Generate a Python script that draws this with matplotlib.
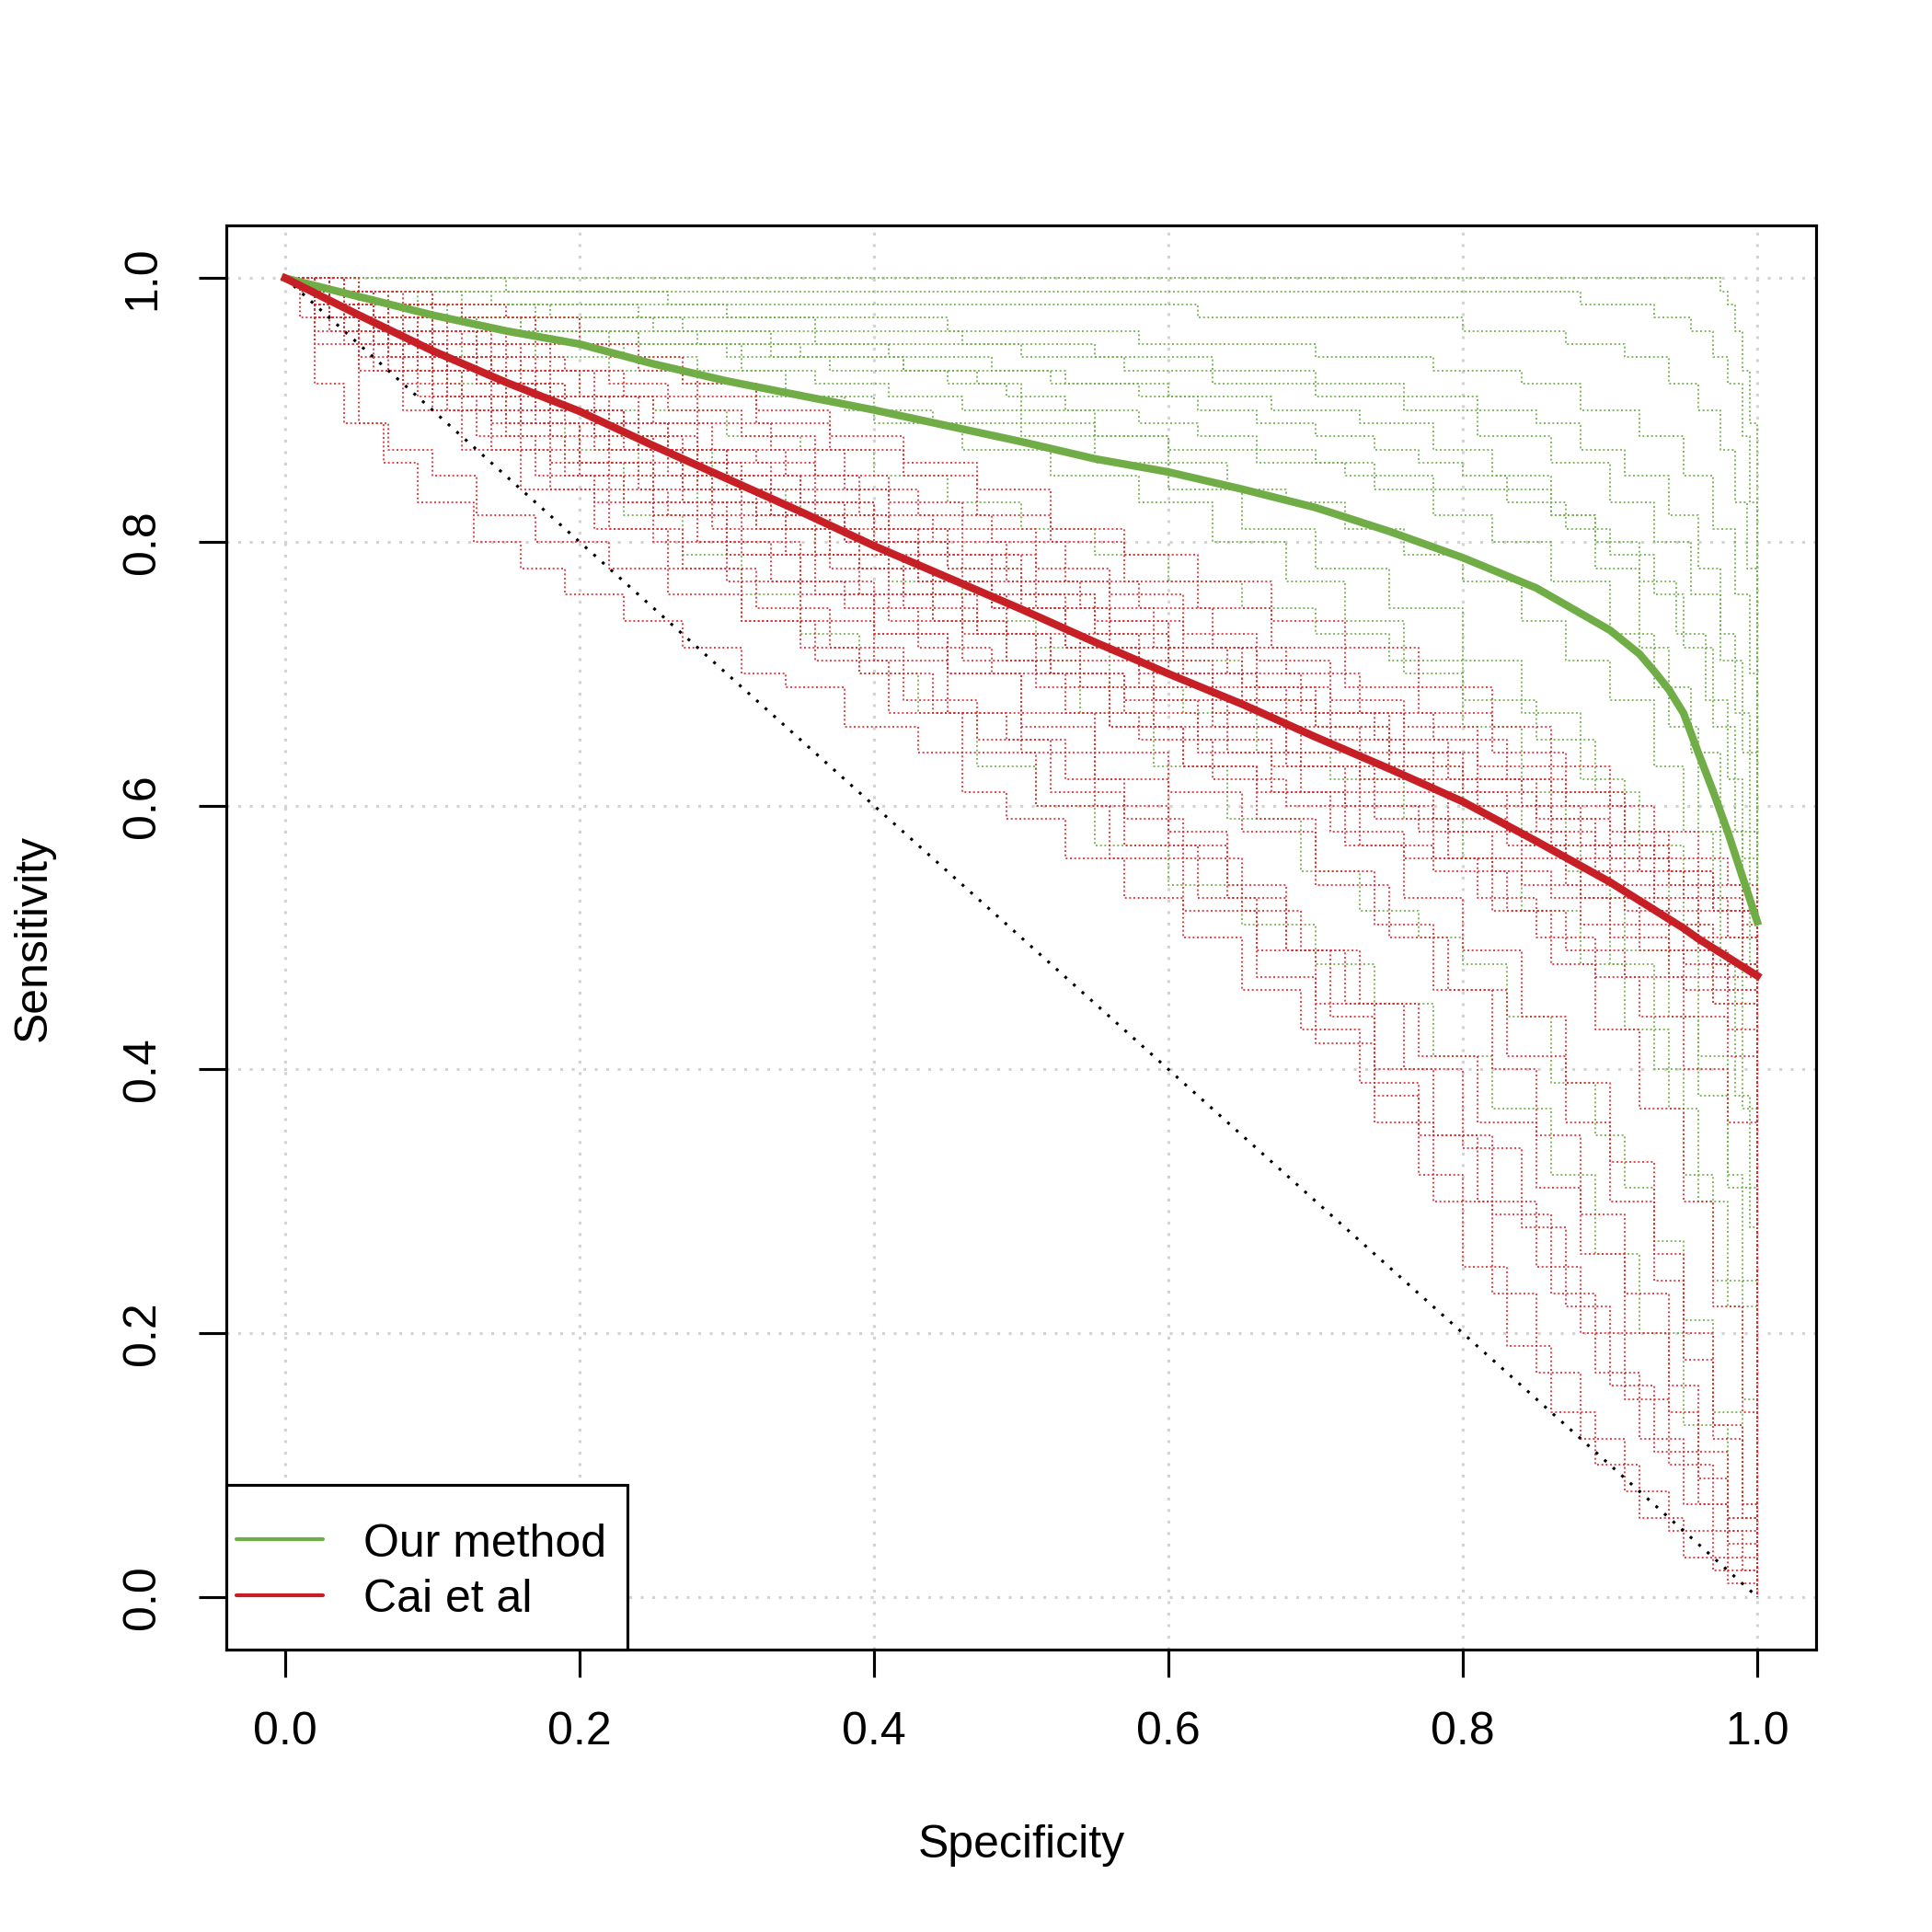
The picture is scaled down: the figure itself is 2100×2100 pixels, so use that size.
import matplotlib
matplotlib.use("Agg")
import matplotlib.pyplot as plt
from matplotlib.lines import Line2D
from matplotlib.patches import Rectangle

plt.rcParams['font.family'] = ['Liberation Sans', 'DejaVu Sans']

# ---------------- data ----------------
# mean ROC curves (specificity grid -> sensitivity)
green_mean_spec = [0, .05, .1, .15, .2, .25, .3, .35, .4, .45, .5, .55, .6, .65,
                   .7, .75, .8, .85, .9, .91, .92, .93, .94, .95, .96, .97, .98, .99, 1.0]
green_mean = [1, .986, .972, .960, .950, .935, .922, .911, .900, .888, .876, .863,
              .853, .840, .826, .808, .788, .765, .733, .724, .715, .702, .688, .670,
              .640, .611, .580, .546, .512]
red_mean_spec = [0, .05, .1, .15, .2, .25, .3, .35, .4, .45, .5, .55, .6, .65,
                 .7, .75, .8, .85, .9, .93, .95, .96, .98, .99, 1.0]
red_mean = [1, .972, .945, .921, .899, .873, .848, .823, .797, .773, .749, .724,
            .700, .677, .652, .628, .603, .573, .542, .521, .507, .499, .485, .478, .471]

# individual ROC curves, "Our method": (specificity, sensitivity) corners
green_runs = [
    [(0,1),(.975,.99),(.98,.98),(.985,.96),(.99,.93),(.995,.89),(1,.85)],
    [(0,1),(.15,.99),(.88,.98),(.93,.97),(.955,.96),(.97,.94),(.98,.92),(.99,.88),(.995,.83),(1,.78)],
    [(0,1),(.05,.99),(.26,.98),(.62,.97),(.80,.96),(.87,.95),(.91,.94),(.94,.92),(.96,.90),(.975,.87),(.985,.83),(.993,.78),(1,.72)],
    [(0,1),(.03,.99),(.12,.98),(.30,.97),(.45,.96),(.58,.95),(.70,.94),(.78,.93),(.84,.92),(.88,.90),(.92,.88),(.95,.85),(.97,.81),(.985,.76),(.995,.70),(1,.64)],
    [(0,1),(.04,.99),(.09,.98),(.18,.97),(.27,.96),(.36,.95),(.50,.94),(.57,.93),(.63,.92),(.70,.91),(.76,.90),(.81,.88),(.86,.86),(.90,.83),(.93,.80),(.955,.76),(.975,.71),(.99,.64),(1,.58)],
    [(0,1),(.02,.99),(.06,.98),(.10,.97),(.16,.96),(.22,.95),(.30,.94),(.37,.93),(.45,.92),(.49,.91),(.53,.90),(.58,.89),(.62,.88),(.66,.87),(.70,.86),(.74,.84),(.78,.82),(.82,.80),(.86,.77),(.90,.73),(.93,.69),(.955,.64),(.975,.58),(.99,.52),(1,.46)],
    [(0,1),(.03,.99),(.07,.98),(.12,.97),(.20,.96),(.28,.95),(.35,.94),(.42,.93),(.47,.92),(.50,.90),(.55,.88),(.60,.86),(.64,.84),(.68,.83),(.72,.81),(.76,.79),(.80,.77),(.84,.74),(.87,.71),(.90,.68),(.93,.63),(.95,.58),(.97,.52),(.99,.45),(1,.40)],
    [(0,1),(.02,.99),(.05,.98),(.10,.97),(.16,.96),(.24,.95),(.33,.94),(.42,.93),(.52,.92),(.60,.91),(.67,.90),(.73,.89),(.78,.87),(.82,.85),(.86,.82),(.89,.78),(.92,.72),(.94,.66),(.96,.58),(.975,.48),(.985,.38),(.995,.28),(1,.20)],
    [(0,1),(.02,.99),(.05,.97),(.09,.96),(.13,.95),(.17,.94),(.22,.93),(.27,.92),(.32,.91),(.38,.90),(.44,.89),(.50,.88),(.55,.86),(.60,.84),(.65,.81),(.70,.78),(.75,.75),(.80,.71),(.84,.67),(.88,.62),(.91,.56),(.94,.49),(.96,.41),(.98,.32),(.99,.24),(1,.16)],
    [(0,1),(.02,.98),(.05,.97),(.08,.95),(.12,.94),(.16,.93),(.20,.91),(.25,.90),(.30,.88),(.35,.87),(.40,.85),(.45,.83),(.50,.81),(.55,.79),(.60,.77),(.65,.75),(.70,.73),(.75,.71),(.80,.68),(.85,.65),(.89,.61),(.92,.57),(.95,.51),(.97,.45),(.99,.37),(1,.30)],
    [(0,1),(.02,.98),(.04,.96),(.07,.95),(.10,.93),(.14,.92),(.18,.90),(.22,.88),(.26,.86),(.30,.84),(.35,.82),(.40,.80),(.45,.78),(.50,.76),(.55,.73),(.60,.71),(.65,.68),(.70,.66),(.75,.63),(.80,.60),(.84,.57),(.88,.53),(.91,.49),(.94,.44),(.96,.38),(.98,.31),(1,.24)],
    [(0,1),(.03,.97),(.06,.95),(.09,.93),(.12,.91),(.16,.89),(.20,.87),(.24,.85),(.28,.83),(.32,.81),(.36,.79),(.41,.77),(.46,.74),(.51,.72),(.56,.69),(.61,.67),(.66,.64),(.71,.62),(.76,.59),(.80,.56),(.84,.52),(.88,.48),(.91,.43),(.94,.37),(.96,.30),(.98,.22),(1,.14)],
    [(0,1),(.03,.97),(.07,.95),(.11,.92),(.15,.89),(.19,.86),(.23,.82),(.27,.79),(.31,.76),(.35,.73),(.39,.70),(.43,.67),(.47,.63),(.51,.60),(.55,.57),(.60,.54),(.65,.51),(.70,.48),(.74,.45),(.78,.41),(.82,.37),(.86,.32),(.89,.26),(.92,.20),(.95,.13),(.98,.06),(1,.02)],
    [(0,1),(.03,.98),(.06,.96),(.10,.94),(.14,.92),(.19,.90),(.24,.87),(.29,.84),(.34,.81),(.39,.78),(.44,.74),(.49,.71),(.54,.67),(.59,.63),(.64,.59),(.69,.55),(.73,.52),(.77,.50),(.80,.48),(.83,.44),(.86,.39),(.89,.35),(.91,.31),(.93,.27),(.95,.21),(.97,.14),(.99,.07),(1,.03)],
    [(0,1),(.02,.99),(.05,.98),(.09,.97),(.13,.96),(.18,.95),(.23,.94),(.28,.93),(.34,.91),(.40,.89),(.46,.87),(.52,.85),(.58,.83),(.63,.80),(.68,.77),(.72,.74),(.76,.70),(.80,.66),(.84,.61),(.87,.55),(.90,.48),(.93,.40),(.95,.32),(.97,.24),(.99,.15),(1,.09)],
    [(0,1),(.04,.99),(.10,.98),(.17,.97),(.25,.96),(.33,.95),(.41,.94),(.48,.93),(.53,.92),(.58,.91),(.62,.90),(.66,.89),(.70,.88),(.74,.87),(.77,.86),(.80,.85),(.83,.84),(.86,.82),(.89,.80),(.92,.77),(.945,.73),(.965,.68),(.98,.62),(.99,.56),(1,.50)],
    [(0,1),(.02,.99),(.06,.98),(.11,.97),(.17,.96),(.24,.95),(.31,.93),(.36,.92),(.41,.91),(.46,.90),(.50,.89),(.55,.88),(.60,.87),(.66,.86),(.72,.85),(.78,.84),(.83,.83),(.87,.81),(.90,.79),(.93,.76),(.95,.72),(.97,.66),(.985,.58),(.995,.48),(1,.40)],
    [(0,1),(.05,.99),(.14,.98),(.24,.97),(.36,.96),(.46,.95),(.55,.94),(.63,.93),(.70,.92),(.76,.91),(.81,.90),(.85,.89),(.88,.87),(.91,.85),(.94,.82),(.96,.78),(.975,.73),(.985,.67),(.995,.58),(1,.50)],
]

# individual ROC curves, "Cai et al": (specificity, sensitivity) corners
red_runs = [
    [(0,1),(.04,.99),(.08,.98),(.12,.97),(.17,.95),(.22,.94),(.27,.92),(.32,.90),(.37,.88),(.42,.86),(.47,.84),(.52,.81),(.57,.79),(.62,.77),(.67,.74),(.72,.72),(.77,.69),(.82,.66),(.86,.63),(.90,.60),(.93,.58),(.96,.56),(.98,.54),(1,.52)],
    [(0,1),(.03,.99),(.07,.97),(.11,.96),(.15,.94),(.19,.93),(.23,.91),(.28,.89),(.33,.87),(.38,.84),(.43,.82),(.48,.80),(.53,.77),(.58,.75),(.63,.72),(.68,.70),(.73,.67),(.78,.65),(.83,.62),(.87,.60),(.91,.57),(.94,.55),(.97,.53),(.99,.51),(1,.49)],
    [(0,1),(.02,.99),(.05,.98),(.09,.96),(.13,.94),(.17,.93),(.21,.91),(.25,.89),(.29,.87),(.34,.85),(.39,.82),(.44,.80),(.49,.77),(.54,.75),(.59,.72),(.64,.70),(.69,.67),(.74,.65),(.79,.62),(.84,.60),(.88,.57),(.92,.55),(.95,.53),(.98,.50),(1,.48)],
    [(0,1),(.03,.98),(.06,.97),(.10,.95),(.14,.93),(.18,.91),(.22,.89),(.26,.87),(.30,.85),(.35,.83),(.40,.80),(.45,.78),(.50,.75),(.55,.73),(.60,.70),(.65,.68),(.70,.66),(.75,.63),(.80,.61),(.85,.58),(.89,.55),(.93,.53),(.96,.50),(.99,.48),(1,.46)],
    [(0,1),(.02,.98),(.05,.96),(.09,.94),(.13,.92),(.17,.90),(.21,.88),(.25,.85),(.29,.83),(.34,.81),(.39,.78),(.44,.76),(.49,.73),(.54,.71),(.59,.68),(.64,.66),(.69,.63),(.74,.61),(.79,.58),(.84,.56),(.88,.53),(.92,.51),(.95,.48),(.98,.46),(1,.43)],
    [(0,1),(.02,.97),(.05,.95),(.08,.93),(.12,.91),(.16,.89),(.20,.86),(.24,.84),(.29,.81),(.34,.79),(.39,.76),(.44,.74),(.49,.71),(.54,.69),(.59,.66),(.64,.64),(.69,.61),(.74,.59),(.79,.56),(.84,.54),(.88,.51),(.92,.49),(.95,.46),(.98,.43),(1,.40)],
    [(0,1),(.02,.97),(.04,.95),(.07,.93),(.11,.90),(.15,.88),(.19,.85),(.23,.83),(.28,.80),(.33,.77),(.38,.75),(.43,.72),(.48,.70),(.53,.67),(.58,.65),(.63,.62),(.68,.60),(.73,.57),(.78,.55),(.83,.52),(.87,.49),(.91,.47),(.95,.44),(.98,.41),(1,.37)],
    [(0,1),(.04,.98),(.08,.96),(.12,.95),(.16,.93),(.20,.91),(.24,.89),(.28,.87),(.32,.86),(.36,.84),(.41,.81),(.46,.79),(.51,.77),(.56,.74),(.61,.72),(.66,.69),(.71,.67),(.76,.64),(.81,.62),(.86,.59),(.90,.56),(.94,.54),(.97,.52),(1,.50)],
    [(0,1),(.01,.99),(.04,.97),(.07,.95),(.11,.93),(.15,.91),(.19,.89),(.24,.87),(.28,.84),(.33,.82),(.38,.80),(.43,.77),(.48,.75),(.53,.72),(.58,.70),(.63,.67),(.68,.64),(.73,.62),(.78,.59),(.83,.57),(.87,.54),(.91,.52),(.94,.49),(.97,.47),(1,.44)],
    [(0,1),(.03,.99),(.06,.98),(.10,.96),(.14,.95),(.18,.93),(.22,.92),(.26,.90),(.31,.88),(.36,.85),(.41,.83),(.46,.81),(.51,.78),(.56,.76),(.61,.73),(.66,.71),(.71,.68),(.76,.66),(.81,.63),(.86,.61),(.90,.58),(.93,.56),(.96,.54),(.99,.52),(1,.50)],
    [(0,1),(.03,.97),(.06,.95),(.10,.93),(.14,.90),(.18,.88),(.22,.86),(.27,.83),(.32,.81),(.37,.78),(.42,.75),(.47,.73),(.52,.70),(.57,.68),(.62,.65),(.67,.63),(.72,.60),(.77,.58),(.82,.55),(.86,.53),(.90,.50),(.94,.47),(.97,.45),(1,.42)],
    [(0,1),(.02,.99),(.06,.97),(.10,.94),(.14,.92),(.18,.90),(.23,.88),(.28,.86),(.33,.83),(.38,.81),(.43,.79),(.48,.76),(.53,.73),(.58,.71),(.63,.69),(.68,.66),(.73,.64),(.78,.61),(.83,.58),(.87,.56),(.91,.53),(.94,.51),(.97,.48),(1,.45)],
    [(0,1),(.05,.99),(.10,.98),(.15,.97),(.20,.95),(.24,.93),(.28,.91),(.32,.89),(.37,.87),(.42,.85),(.47,.82),(.52,.80),(.57,.77),(.62,.75),(.67,.72),(.72,.69),(.77,.67),(.82,.64),(.87,.61),(.91,.58),(.94,.55),(.97,.52),(1,.48)],
    [(0,1),(.02,.98),(.04,.96),(.07,.94),(.10,.91),(.14,.89),(.18,.86),(.22,.84),(.26,.82),(.31,.79),(.36,.76),(.41,.74),(.46,.71),(.51,.69),(.56,.66),(.61,.63),(.66,.61),(.71,.58),(.76,.56),(.81,.53),(.85,.50),(.89,.47),(.92,.44),(.95,.40),(.98,.36),(1,.32)],
    [(0,1),(.03,.98),(.07,.96),(.11,.94),(.15,.92),(.19,.90),(.23,.88),(.27,.86),(.31,.84),(.36,.82),(.41,.79),(.46,.77),(.51,.75),(.56,.72),(.61,.70),(.66,.67),(.71,.65),(.76,.62),(.81,.60),(.86,.57),(.90,.54),(.93,.52),(.96,.49),(.98,.46),(1,.41)],
    [(0,1),(.02,.98),(.06,.96),(.09,.95),(.13,.93),(.17,.91),(.21,.89),(.26,.87),(.30,.85),(.35,.83),(.40,.81),(.45,.79),(.50,.76),(.55,.74),(.60,.72),(.65,.69),(.70,.67),(.75,.64),(.80,.62),(.85,.59),(.89,.57),(.93,.54),(.96,.52),(.99,.50),(1,.47)],
    [(0,1),(.01,.97),(.02,.92),(.04,.89),(.067,.86),(.09,.83),(.128,.80),(.16,.78),(.19,.76),(.23,.74),(.27,.72),(.31,.70),(.34,.69),(.38,.66),(.43,.64),(.46,.61),(.49,.59),(.53,.56),(.57,.53),(.61,.50),(.65,.46),(.69,.43),(.73,.39),(.77,.35),(.81,.30),(.85,.25),(.88,.20),(.91,.15),(.94,.10),(.97,.05),(.99,.02),(1,.01)],
    [(0,1),(.02,.95),(.05,.89),(.07,.87),(.10,.85),(.13,.82),(.17,.80),(.22,.78),(.26,.76),(.31,.74),(.35,.72),(.39,.70),(.44,.67),(.49,.65),(.53,.62),(.57,.59),(.61,.56),(.65,.52),(.69,.49),(.73,.45),(.77,.41),(.81,.36),(.85,.31),(.88,.26),(.91,.20),(.94,.14),(.96,.09),(.98,.05),(1,.02)],
    [(0,1),(.03,.96),(.06,.93),(.10,.90),(.14,.87),(.18,.84),(.22,.81),(.27,.78),(.32,.75),(.37,.72),(.42,.68),(.47,.65),(.52,.61),(.57,.57),(.62,.53),(.66,.49),(.70,.45),(.74,.40),(.78,.35),(.82,.29),(.86,.23),(.89,.17),(.92,.12),(.95,.07),(.98,.03),(1,.01)],
    [(0,1),(.02,.97),(.05,.94),(.09,.91),(.13,.88),(.17,.85),(.21,.83),(.25,.80),(.30,.77),(.35,.74),(.40,.71),(.45,.67),(.50,.64),(.55,.60),(.60,.57),(.64,.53),(.68,.49),(.72,.45),(.76,.40),(.80,.34),(.84,.28),(.87,.22),(.90,.16),(.93,.11),(.96,.07),(.98,.04),(1,.02)],
    [(0,1),(.03,.97),(.07,.94),(.11,.91),(.15,.89),(.20,.86),(.25,.83),(.30,.80),(.35,.77),(.40,.73),(.45,.70),(.50,.66),(.55,.62),(.60,.58),(.64,.54),(.68,.49),(.71,.44),(.74,.38),(.77,.32),(.80,.25),(.83,.19),(.86,.14),(.89,.10),(.92,.06),(.95,.03),(.98,.01),(1,0)],
    [(0,1),(.03,.98),(.07,.95),(.11,.93),(.16,.90),(.21,.87),(.26,.85),(.31,.82),(.36,.79),(.41,.76),(.46,.73),(.51,.70),(.56,.66),(.61,.63),(.66,.59),(.70,.55),(.74,.51),(.78,.46),(.82,.40),(.85,.35),(.88,.29),(.91,.23),(.94,.16),(.96,.11),(.98,.06),(1,.03)],
    [(0,1),(.02,.98),(.05,.96),(.09,.94),(.13,.92),(.17,.89),(.22,.87),(.27,.84),(.32,.82),(.37,.79),(.42,.76),(.47,.73),(.52,.70),(.57,.67),(.62,.64),(.67,.61),(.72,.57),(.76,.53),(.80,.49),(.84,.44),(.87,.39),(.90,.33),(.93,.26),(.95,.20),(.97,.13),(.99,.07),(1,.04)],
    [(0,1),(.03,.98),(.06,.96),(.10,.94),(.14,.92),(.18,.90),(.23,.87),(.28,.85),(.33,.82),(.38,.80),(.43,.77),(.48,.75),(.53,.72),(.58,.69),(.63,.66),(.68,.63),(.73,.60),(.78,.56),(.82,.52),(.86,.48),(.89,.43),(.92,.37),(.95,.30),(.97,.22),(.99,.14),(1,.08)],
    [(0,1),(.02,.97),(.05,.95),(.08,.92),(.12,.90),(.16,.87),(.20,.85),(.25,.82),(.30,.79),(.35,.76),(.40,.73),(.45,.70),(.50,.67),(.55,.64),(.60,.61),(.65,.58),(.70,.54),(.75,.50),(.79,.46),(.83,.41),(.87,.36),(.90,.30),(.93,.24),(.95,.18),(.97,.12),(.99,.06),(1,.03)],
    [(0,1),(.02,.96),(.05,.93),(.08,.90),(.12,.87),(.16,.84),(.21,.81),(.26,.78),(.31,.74),(.36,.71),(.41,.67),(.46,.64),(.51,.60),(.56,.56),(.61,.52),(.66,.47),(.70,.42),(.74,.36),(.78,.30),(.82,.23),(.85,.17),(.88,.12),(.91,.08),(.94,.05),(.97,.02),(1,0)],
]

ticks = [0.0, 0.2, 0.4, 0.6, 0.8, 1.0]
tick_labels = ["0.0", "0.2", "0.4", "0.6", "0.8", "1.0"]
legend_labels = ["Our method", "Cai et al"]

# ---------------- style ----------------
GREEN = "#70AD47"
RED = "#C62026"
GREEN_THIN = "#6DAE46"
RED_THIN = "#E3262B"
THIN_LS = (0, (1.2, 1.6))

W = H = 2100
fig = plt.figure(figsize=(7, 7), dpi=300)
ax = fig.add_axes([246 / W, 1 - 1793 / H, (1974 - 246) / W, (1793 - 245) / H])
ax.set_xlim(-0.04, 1.04)
ax.set_ylim(-0.04, 1.04)

# grid
for t in ticks:
    ax.axvline(t, color="#D3D3D3", lw=0.75, ls=(0, (1, 3)), zorder=0)
    ax.axhline(t, color="#D3D3D3", lw=0.75, ls=(0, (1, 3)), zorder=0)


def draw_run(run, color, z):
    xs = [p[0] for p in run] + [1.0]
    ys = [p[1] for p in run] + [0.0]
    ax.plot(xs, ys, drawstyle="steps-post", color=color, lw=0.4, ls=THIN_LS, zorder=z)


for run in green_runs:
    draw_run(run, GREEN_THIN, 2)
for run in red_runs:
    draw_run(run, RED_THIN, 3)

# chance diagonal
ax.plot([0, 1], [1, 0], color="black", lw=0.75, ls=(0, (1, 3)), zorder=4)

ax.plot(green_mean_spec, green_mean, color=GREEN, lw=2.0, zorder=5)
ax.plot(red_mean_spec, red_mean, color=RED, lw=2.0, zorder=6)

ax.set_xticks(ticks)
ax.set_xticklabels(tick_labels)
ax.set_yticks(ticks)
ax.set_yticklabels(tick_labels, rotation=90, va="center")
ax.tick_params(direction="out", length=7.2, width=0.75, labelsize=12, pad=9)
for s in ax.spines.values():
    s.set_linewidth(0.75)

fig.text(1110 / W, 1 - 2006 / H, "Specificity", ha="center", va="center", fontsize=12)
fig.text(37 / W, 1 - 1019 / H, "Sensitivity", ha="center", va="center",
         rotation=90, fontsize=12)

# legend box (drawn by hand to match R's legend layout)
fig.add_artist(Rectangle((246 / W, 1 - 1793 / H), 436 / W, 179 / H,
                         transform=fig.transFigure, facecolor="white",
                         edgecolor="black", lw=0.75, zorder=10))
for (color, label, ly, by) in [(GREEN, legend_labels[0], 1673, 1692),
                               (RED, legend_labels[1], 1734, 1752)]:
    fig.add_artist(Line2D([257 / W, 351 / W], [1 - ly / H, 1 - ly / H],
                          transform=fig.transFigure, color=color, lw=1.0,
                          solid_capstyle="round", zorder=11))
    fig.text(395 / W, 1 - by / H, label, ha="left", va="baseline",
             fontsize=12, zorder=11)

fig.savefig("out.png", dpi=300)
